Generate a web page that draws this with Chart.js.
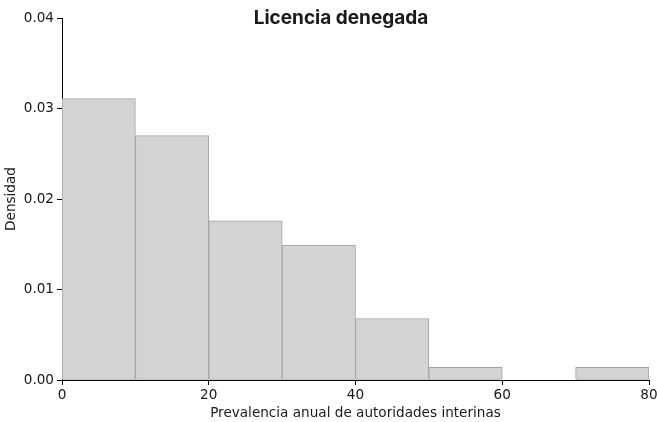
<!DOCTYPE html>
<html>
<head>
<meta charset="utf-8">
<script src="https://cdn.jsdelivr.net/npm/chart.js@4/dist/chart.umd.min.js"></script>
<style>
  html, body { margin: 0; padding: 0; background: #fff; }
  #chart { display: block; }
</style>
</head>
<body>
<canvas id="chart" width="657" height="422"></canvas>
<script>
const binStarts = [0, 10, 20, 30, 40, 50, 60, 70];
const binWidth = 10;
const densities = [0.0311, 0.0270, 0.0176, 0.0149, 0.0068, 0.0014, 0, 0.0014];
const xTicks = [0, 20, 40, 60, 80];
const yTicks = [0, 0.01, 0.02, 0.03, 0.04];

const titleText = 'Licencia denegada';
const xLabel = 'Prevalencia anual de autoridades interinas';
const yLabel = 'Densidad';

const tickFont = { family: 'DejaVu Sans', size: 13.6 };
const textColor = '#1a1a1a';

const titlePlugin = {
  id: 'titleOverlay',
  afterDraw(chart) {
    const ctx = chart.ctx;
    ctx.save();
    ctx.font = '700 19px Inter';
    ctx.fillStyle = textColor;
    ctx.textAlign = 'center';
    ctx.textBaseline = 'middle';
    ctx.fillText(titleText, 341, 18);
    ctx.restore();
  },
};

const ctx = document.getElementById('chart').getContext('2d');
new Chart(ctx, {
  type: 'bar',
  data: {
    datasets: [
      {
        data: binStarts.map((s, i) => ({ x: s + binWidth / 2, y: densities[i] })),
        backgroundColor: '#d3d3d3',
        borderColor: '#a3a3a3',
        borderWidth: 1,
        borderSkipped: false,
        barPercentage: 1,
        categoryPercentage: 1,
      },
    ],
  },
  options: {
    responsive: false,
    animation: false,
    layout: { padding: { top: 18, right: 8, left: 0, bottom: 0 } },
    plugins: {
      legend: { display: false },
      tooltip: { enabled: false },
    },
    scales: {
      x: {
        type: 'linear',
        min: 0,
        max: 80,
        offset: false,
        afterBuildTicks(axis) {
          axis.ticks = xTicks.map((v) => ({ value: v }));
        },
        afterFit(axis) {
          axis.height = 42;
          axis.paddingLeft = 0;
          axis.paddingRight = 0;
        },
        grid: { offset: false, drawOnChartArea: false, tickLength: 5, tickColor: '#000' },
        border: { color: '#000', width: 1 },
        ticks: { color: textColor, font: tickFont, padding: 2, maxRotation: 0 },
        title: {
          display: true,
          text: xLabel,
          color: textColor,
          font: tickFont,
          padding: { top: 0, bottom: 0 },
        },
      },
      y: {
        min: 0,
        max: 0.04,
        afterBuildTicks(axis) {
          axis.ticks = yTicks.map((v) => ({ value: v }));
        },
        afterFit(axis) {
          axis.width = 62;
        },
        grid: { drawOnChartArea: false, tickLength: 5, tickColor: '#000' },
        border: { color: '#000', width: 1 },
        ticks: {
          color: textColor,
          font: tickFont,
          padding: 3,
          callback: (v) => v.toFixed(2),
        },
        title: {
          display: true,
          text: yLabel,
          color: textColor,
          font: tickFont,
          padding: { top: 3, bottom: 2 },
        },
      },
    },
  },
  plugins: [titlePlugin],
});
</script>
</body>
</html>
